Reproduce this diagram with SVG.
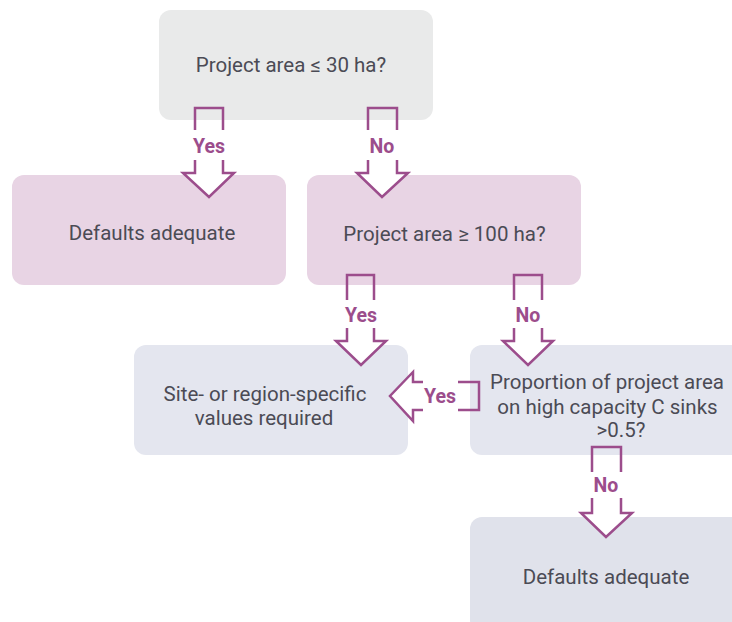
<svg xmlns="http://www.w3.org/2000/svg" width="732" height="622" viewBox="0 0 732 622">
<style>
.box{stroke:none}
.t{font-family:Roboto,"Liberation Sans",Arial,sans-serif;font-size:20.5px;fill:#4b4b55;text-anchor:middle}
.lbl{font-family:Roboto,"Liberation Sans",Arial,sans-serif;font-size:19.5px;font-weight:bold;fill:#9c4d8c;text-anchor:middle}
.ar{fill:none;stroke:#9c4d8c;stroke-width:2.5;stroke-linejoin:miter}
.hd{fill:#ffffff;stroke:none}
</style>
<rect width="732" height="622" fill="#ffffff"/>
<g id="n1"><rect class="box" x="159" y="10" width="274" height="110" rx="12" fill="#e9eaea"/><text class="t" x="291" y="72">Project area ≤ 30 ha?</text></g>
<g id="n2"><rect class="box" x="12" y="175" width="274" height="110" rx="12" fill="#e8d4e4"/><text class="t" x="152" y="240">Defaults adequate</text></g>
<g id="n3"><rect class="box" x="307" y="175" width="274" height="110" rx="12" fill="#e8d4e4"/><text class="t" x="444.5" y="241">Project area ≥ 100 ha?</text></g>
<g id="n4"><rect class="box" x="134" y="345" width="274" height="110" rx="12" fill="#e4e6ef"/><text class="t" x="265" y="401">Site- or region-specific</text><text class="t" x="264" y="425">values required</text></g>
<g id="n5"><rect class="box" x="470" y="345" width="274" height="110" rx="12" fill="#e4e6ef"/><text class="t" x="607" y="389">Proportion of project area</text><text class="t" x="607.5" y="414">on high capacity C sinks</text><text class="t" x="621" y="437">&gt;0.5?</text></g>
<g id="n6"><rect class="box" x="470" y="517" width="274" height="115" rx="12" fill="#e0e2eb"/><text class="t" x="606" y="584">Defaults adequate</text></g>
<g id="connectors">
<g id="a1"><polygon class="hd" points="195,173 183,173 209,197 234,173 223,173"/><path class="ar" d="M195,130 V108 H223 V130 M195,160 V173 H183 L209,197 L234,173 H223 V160"/><text class="lbl" x="209" y="153">Yes</text></g>
<g id="a2"><polygon class="hd" points="368,173 357,173 382,197 408,173 397,173"/><path class="ar" d="M368,130 V108 H397 V130 M368,160 V173 H357 L382,197 L408,173 H397 V160"/><text class="lbl" x="382" y="153">No</text></g>
<g id="a3"><polygon class="hd" points="347,341 336,341 361,365 386,341 374,341"/><path class="ar" d="M347,300 V275 H374 V300 M347,328 V341 H336 L361,365 L386,341 H374 V328"/><text class="lbl" x="361" y="322">Yes</text></g>
<g id="a4"><polygon class="hd" points="514,341 503,341 528,365 553,341 542,341"/><path class="ar" d="M514,300 V275 H542 V300 M514,328 V341 H503 L528,365 L553,341 H542 V328"/><text class="lbl" x="528" y="322">No</text></g>
<g id="a5"><polygon class="hd" points="413,382 413,372 390,396 413,421 413,410"/><path class="ar" d="M458,382 H479 V410 H458 M423,382 H413 V372 L390,396 L413,421 V410 H423"/><text class="lbl" x="440" y="403">Yes</text></g>
<g id="a6"><polygon class="hd" points="592,513 581,513 606,537 632,513 621,513"/><path class="ar" d="M592,472 V447 H621 V472 M592,498 V513 H581 L606,537 L632,513 H621 V498"/><text class="lbl" x="606" y="492">No</text></g>
</g>
</svg>
